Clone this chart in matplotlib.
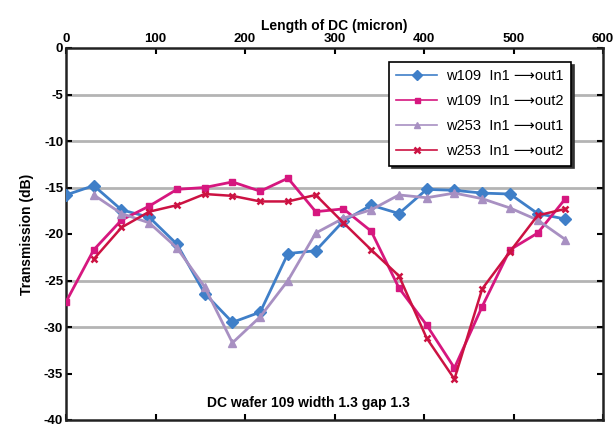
import matplotlib
matplotlib.use("Agg")
import matplotlib.pyplot as plt

plt.rcParams['font.family'] = ['Liberation Sans', 'DejaVu Sans']
plt.rcParams['axes.unicode_minus'] = False

length = [0, 31, 62, 93, 124, 155, 186, 217, 248, 279, 310, 341, 372, 403, 434, 465, 496, 527, 558]
length_w253 = length[1:]

w109_out1 = [-15.8, -14.8, -17.4, -18.2, -21.1, -26.4, -29.5, -28.4, -22.1, -21.8,
             -18.6, -16.9, -17.8, -15.2, -15.3, -15.6, -15.7, -17.8, -18.4]
w109_out2 = [-27.3, -21.7, -18.5, -17.0, -15.2, -15.0, -14.4, -15.4, -14.0, -17.6,
             -17.3, -19.7, -25.8, -29.8, -34.4, -27.8, -21.7, -19.9, -16.2]
w253_out1 = [-15.8, -17.8, -18.8, -21.5, -25.7, -31.7, -28.9, -25.0, -19.9,
             -18.3, -17.4, -15.8, -16.1, -15.6, -16.2, -17.2, -18.5, -20.6]
w253_out2 = [-22.7, -19.3, -17.6, -16.9, -15.7, -15.9, -16.5, -16.5, -15.8,
             -18.8, -21.7, -24.5, -31.2, -35.6, -25.9, -21.9, -18.0, -17.3]

labels = ["w109  In1 \u27f6out1", "w109  In1 \u27f6out2",
          "w253  In1 \u27f6out1", "w253  In1 \u27f6out2"]
grid_levels = [-5, -10, -15, -25, -30]
xticks = [0, 100, 200, 300, 400, 500, 600]
yticks = [0, -5, -10, -15, -20, -25, -30, -35, -40]

fig = plt.figure(figsize=(6.13, 4.28), dpi=100)
ax = fig.add_axes([66/613, 1-420/428, (603-66)/613, (420-48)/428])

for g in grid_levels:
    ax.axhline(g, color='#b4b4b4', lw=2.0, zorder=1)

c_blue = '#3f7fc8'
c_mag = '#d6177f'
c_lav = '#a890c2'
c_red = '#cc1242'

h1, = ax.plot(length, w109_out1, color=c_blue, lw=2.0, marker='D', ms=6, zorder=3, label=labels[0])
h2, = ax.plot(length, w109_out2, color=c_mag, lw=2.0, marker='s', ms=4.5, zorder=3, label=labels[1])
h3, = ax.plot(length_w253, w253_out1, color=c_lav, lw=2.0, marker='^', ms=5.5, zorder=3, label=labels[2])
h4, = ax.plot(length_w253, w253_out2, color=c_red, lw=1.8, marker='x', ms=5, mew=1.8, zorder=4, label=labels[3])

ax.set_xlim(0, 600)
ax.set_ylim(-40, 0)
ax.set_xticks(xticks)
ax.set_yticks(yticks)
ax.xaxis.tick_top()
ax.xaxis.set_label_position('top')
ax.tick_params(axis='both', direction='in', length=4, width=1.5, labelsize=9.5,
               top=True, bottom=True, left=True, right=True, pad=2)
for lab in ax.get_xticklabels() + ax.get_yticklabels():
    lab.set_fontweight('bold')
for s in ax.spines.values():
    s.set_linewidth(1.8)
    s.set_color('#222222')

ax.set_xlabel("Length of DC (micron)", fontsize=10, fontweight='bold', labelpad=2)
ax.set_ylabel("Transmission (dB)", fontsize=10, fontweight='bold', labelpad=7)

ax.text(271, -38.2, "DC wafer 109 width 1.3 gap 1.3", ha='center', va='center',
        fontsize=10, fontweight='bold')

leg = ax.legend(handles=[h1, h2, h3, h4], loc='upper right', bbox_to_anchor=(0.94, 0.962),
                borderaxespad=0, fontsize=10.5, frameon=True, fancybox=False,
                shadow={'ox': 2, 'oy': -2, 'color': '#333333', 'alpha': 1.0},
                handlelength=2.8, labelspacing=0.75, borderpad=0.5, handletextpad=0.6,
                markerscale=0.8, framealpha=1.0)
leg.get_frame().set_edgecolor('black')
leg.get_frame().set_linewidth(1.2)
for ln in leg.get_lines():
    ln.set_linewidth(1.2)

fig.savefig("out.png", dpi=100)
